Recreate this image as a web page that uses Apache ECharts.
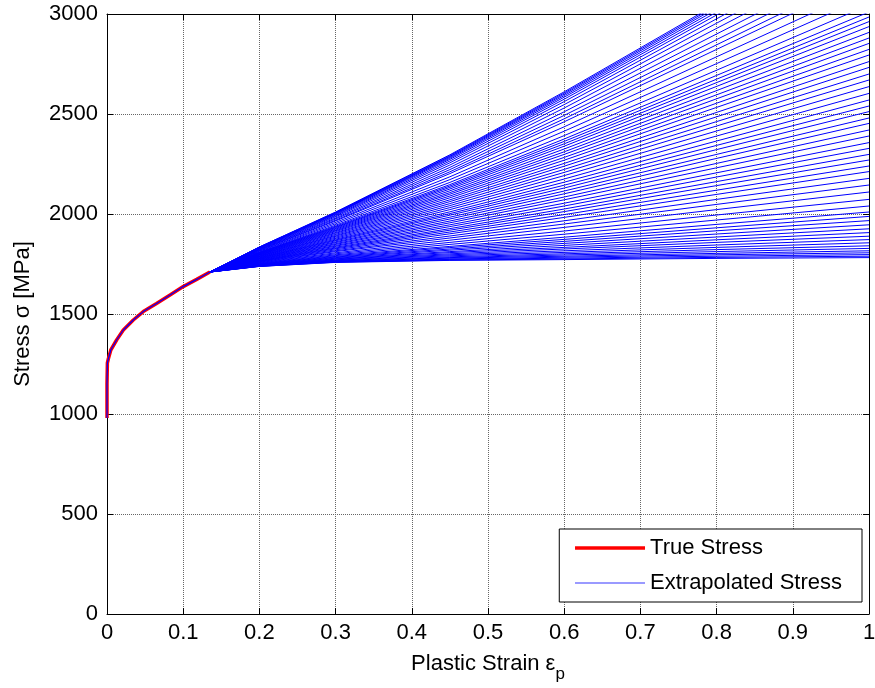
<!DOCTYPE html>
<html><head><meta charset="utf-8">
<script src="https://cdn.jsdelivr.net/npm/echarts@6/dist/echarts.min.js"></script>
<style>html,body{margin:0;padding:0;background:#fff;}#c{width:875px;height:688px;}</style>
</head><body><div id="c"></div>
<script>
const xTickLabels = ['0','0.1','0.2','0.3','0.4','0.5','0.6','0.7','0.8','0.9','1'];
const yTickLabels = ['0','500','1000','1500','2000','2500','3000'];

const trueStrain = [0, 0, 0.0005, 0.0017, 0.005, 0.0126, 0.0214, 0.0345, 0.0476, 0.065, 0.0827, 0.100, 0.1177, 0.135];
const trueStress = [980, 1150, 1255, 1275, 1320, 1370, 1420, 1470, 1512, 1553, 1595, 1637, 1673, 1710];

const fanStrain = [0.135, 0.2, 0.3, 0.45, 0.6, 0.8, 1.0];
const extrapolatedStress = [
[1710,1738,1758,1768,1772,1778,1782],
[1710,1738,1759,1770,1775,1783,1789],
[1710,1739,1760,1773,1779,1789,1797],
[1710,1739,1762,1775,1784,1796,1806],
[1710,1740,1763,1779,1789,1803,1816],
[1710,1741,1765,1782,1795,1812,1828],
[1710,1741,1767,1786,1801,1822,1841],
[1710,1742,1769,1791,1808,1833,1856],
[1710,1743,1771,1796,1816,1845,1872],
[1710,1744,1774,1801,1825,1858,1889],
[1710,1745,1776,1807,1833,1871,1907],
[1710,1746,1779,1812,1843,1885,1926],
[1710,1747,1782,1819,1853,1900,1946],
[1710,1749,1785,1825,1863,1916,1967],
[1710,1750,1788,1832,1873,1931,1988],
[1710,1751,1792,1838,1884,1948,2010],
[1710,1753,1796,1848,1899,1970,2040],
[1710,1755,1801,1858,1915,1995,2073],
[1710,1757,1806,1869,1933,2022,2110],
[1710,1759,1812,1880,1950,2048,2145],
[1710,1761,1816,1890,1966,2073,2178],
[1710,1763,1821,1901,1983,2098,2212],
[1710,1764,1826,1910,1997,2119,2240],
[1710,1766,1830,1919,2012,2142,2270],
[1710,1767,1834,1927,2025,2162,2298],
[1710,1769,1839,1937,2040,2185,2328],
[1710,1771,1843,1946,2054,2206,2357],
[1710,1773,1848,1956,2071,2231,2390],
[1710,1774,1852,1965,2085,2253,2420],
[1710,1776,1857,1975,2101,2278,2453],
[1710,1778,1861,1984,2115,2298,2480],
[1710,1780,1866,1994,2130,2322,2512],
[1710,1781,1870,2002,2144,2343,2540],
[1710,1783,1874,2011,2159,2365,2570],
[1710,1785,1879,2022,2175,2390,2603],
[1710,1787,1884,2032,2192,2415,2637],
[1710,1789,1889,2042,2208,2440,2670],
[1710,1790,1893,2052,2223,2462,2700],
[1710,1792,1898,2062,2239,2486,2733],
[1710,1794,1903,2071,2253,2508,2762],
[1710,1796,1907,2081,2269,2533,2795],
[1710,1797,1912,2090,2283,2554,2823],
[1710,1799,1916,2099,2298,2576,2853],
[1710,1801,1920,2107,2311,2596,2880],
[1710,1802,1924,2116,2325,2617,2908],
[1710,1804,1928,2125,2339,2638,2937],
[1710,1805,1932,2133,2351,2657,2962],
[1710,1807,1935,2140,2363,2674,2985],
[1710,1808,1939,2147,2375,2693,3010],
[1710,1810,1944,2158,2392,2719,3045],
[1710,1813,1951,2172,2414,2752,3090],
[1710,1815,1958,2186,2436,2786,3135],
[1710,1818,1965,2202,2461,2823,3185],
[1710,1820,1969,2211,2476,2846,3215],
[1710,1822,1975,2222,2493,2872,3250],
[1710,1824,1980,2233,2511,2900,3288],
[1710,1826,1986,2245,2530,2928,3325],
[1710,1828,1991,2256,2547,2954,3360],
[1710,1830,1995,2265,2562,2976,3390],
[1710,1831,1999,2273,2574,2995,3415],
[1710,1832,2002,2279,2584,3009,3435],
[1710,1833,2004,2284,2592,3022,3452],
[1710,1834,2006,2288,2599,3033,3466],
[1710,1835,2008,2292,2605,3042,3478],
[1710,1835,2010,2296,2611,3050,3490]
];

const FONT = "'Liberation Sans', Arial, Helvetica, sans-serif";
const chart = echarts.init(document.getElementById('c'), null, {renderer:'canvas'});

const gridLine = {show:true, lineStyle:{color:'#666', type:'dotted', width:1}};
const tick = {show:true, inside:true, length:6, lineStyle:{color:'#000', width:1}};
const axLine = {show:true, onZero:false, lineStyle:{color:'#000', width:1}};

const series = [];
extrapolatedStress.forEach(row => {
  series.push({
    type:'line', name:'Extrapolated Stress', xAxisIndex:0, yAxisIndex:0,
    data: fanStrain.map((x,i)=>[x,row[i]]),
    symbol:'none', showSymbol:false, clip:true, silent:true, z:2,
    itemStyle:{color:'#0000ff'},
    lineStyle:{color:'#0000ff', width:1}
  });
});
series.push({
  type:'line', name:'True Stress', xAxisIndex:0, yAxisIndex:0,
  data: trueStrain.map((x,i)=>[x,trueStress[i]]),
  symbol:'none', showSymbol:false, clip:true, silent:true, z:3,
  itemStyle:{color:'#ff0000'},
  lineStyle:{color:'#ff0000', width:3.5}
});
series.push({
  type:'line', name:'Extrapolated Stress', xAxisIndex:0, yAxisIndex:0,
  data: trueStrain.map((x,i)=>[x,trueStress[i]]),
  symbol:'none', showSymbol:false, clip:true, silent:true, z:4,
  itemStyle:{color:'#0000ff'},
  lineStyle:{color:'#0000ff', width:1.2}
});

chart.setOption({
  animation:false,
  backgroundColor:'#fff',
  textStyle:{fontFamily:FONT},
  grid:{left:107, top:14, width:762, height:600, containLabel:false, outerBoundsMode:'none'},
  legend:{
    orient:'vertical', right:13, bottom:86,
    backgroundColor:'#fff', borderColor:'#000', borderWidth:1,
    padding:[7,20,7,14], itemGap:11, itemWidth:70, itemHeight:24,
    textStyle:{fontSize:22, color:'#000', fontFamily:FONT, lineHeight:24, padding:[0,0,0,0]},
    itemStyle:{opacity:0},
    selectedMode:false,
    data:[
      {name:'True Stress', itemStyle:{opacity:0}, lineStyle:{color:'#ff0000', width:3.5}},
      {name:'Extrapolated Stress', itemStyle:{opacity:0}, lineStyle:{color:'#7878ff', width:1.5}}
    ]
  },
  xAxis:[
    {type:'value', gridIndex:0, position:'bottom', min:0, max:1, interval:0.1,
     axisLine:axLine, axisTick:tick, splitLine:gridLine,
     axisLabel:{fontSize:22, color:'#000', fontFamily:FONT, margin:8,
       formatter:(v)=>xTickLabels[Math.round(v*10)]},
     name:'Plastic Strain ε{p|p}', nameLocation:'middle', nameGap:30,
     nameTextStyle:{fontSize:22, color:'#000', fontFamily:FONT,
       rich:{p:{fontSize:17, color:'#000', fontFamily:FONT, padding:[22,0,0,0]}}}
    },
    {type:'value', gridIndex:0, position:'top', min:0, max:1, interval:0.1,
     axisLine:axLine, axisTick:tick, splitLine:{show:false}, axisLabel:{show:false}}
  ],
  yAxis:[
    {type:'value', gridIndex:0, position:'left', min:0, max:3000, interval:500,
     axisLine:axLine, axisTick:tick, splitLine:gridLine,
     axisLabel:{fontSize:22, color:'#000', fontFamily:FONT, margin:9,
       formatter:(v)=>yTickLabels[Math.round(v/500)]},
     name:'Stress σ [MPa]', nameLocation:'middle', nameGap:73,
     nameTextStyle:{fontSize:22, color:'#000', fontFamily:FONT}
    },
    {type:'value', gridIndex:0, position:'right', min:0, max:3000, interval:500,
     axisLine:axLine, axisTick:tick, splitLine:{show:false}, axisLabel:{show:false}}
  ],
  series: series
});
</script>
</body></html>
